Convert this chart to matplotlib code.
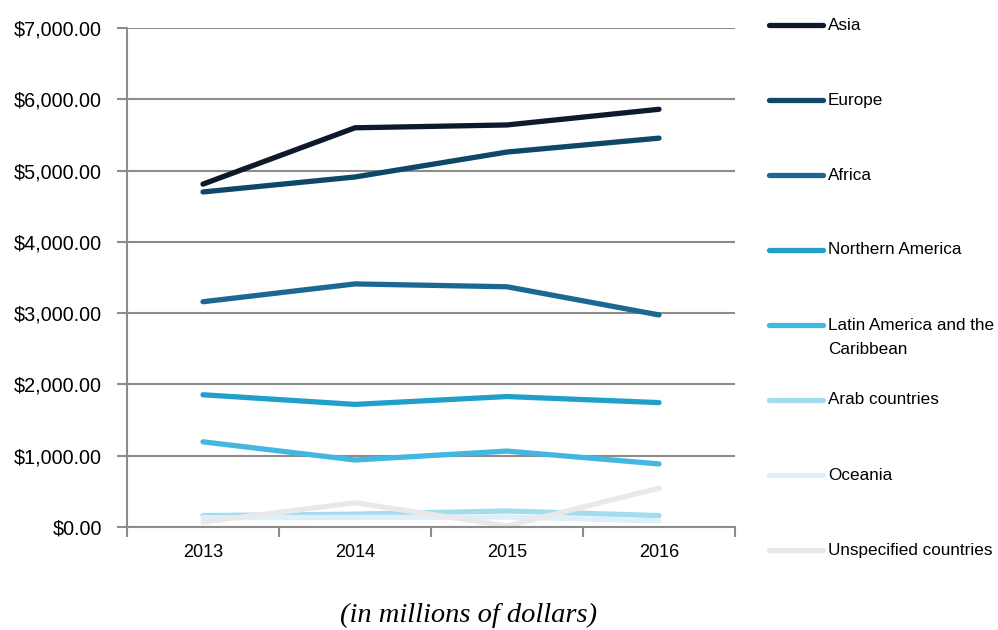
import matplotlib.pyplot as plt
from matplotlib.lines import Line2D
from matplotlib.ticker import FuncFormatter

plt.rcParams['font.family'] = ['Liberation Sans', 'DejaVu Sans']

# Data (millions of dollars)
years = ['2013', '2014', '2015', '2016']
regions = ['Asia', 'Europe', 'Africa', 'Northern America',
           'Latin America and the\nCaribbean', 'Arab countries',
           'Oceania', 'Unspecified countries']
asia = [4810, 5600, 5640, 5860]
europe = [4700, 4910, 5260, 5455]
africa = [3160, 3410, 3370, 2975]
northern_america = [1855, 1720, 1830, 1745]
latin_america = [1195, 940, 1065, 885]
arab_countries = [160, 180, 225, 160]
oceania = [130, 135, 140, 85]
unspecified = [70, 340, 15, 545]
colors = ['#0c1a2b', '#0f4766', '#1b6993', '#219fcb', '#44b7e0',
          '#a3dbef', '#ddf0f9', '#e9e9e9']

series = [asia, europe, africa, northern_america, latin_america,
          arab_countries, oceania, unspecified]

fig = plt.figure(figsize=(9.98, 6.3), dpi=100)
ax = fig.add_axes([127/998, 1 - 527/630, (735 - 127)/998, (527 - 28)/630])

x = range(len(years))
for vals, c in zip(series, colors):
    ax.plot(x, vals, color=c, lw=3.8, solid_capstyle='round',
            solid_joinstyle='round')

ax.set_xlim(-0.5, 3.5)
ax.set_ylim(0, 7000)
ax.set_yticks(range(0, 7001, 1000))
ax.yaxis.set_major_formatter(FuncFormatter(lambda v, p: '${:,.2f}'.format(v)))
# category boundaries get the tick marks, labels sit in between
ax.set_xticks([-0.5, 0.5, 1.5, 2.5, 3.5])
ax.set_xticklabels([])
ax.set_xticks(list(x), minor=True)
ax.set_xticklabels(years, minor=True)
ax.tick_params(axis='x', which='minor', length=0, labelsize=13, pad=12)
ax.tick_params(axis='x', which='major', length=7, width=1.5, color='#8c8c8c')
ax.tick_params(axis='y', length=7, width=1.5, color='#8c8c8c', labelsize=14.2, pad=11)

ax.grid(axis='y', color='#8c8c8c', lw=1.5)
ax.set_axisbelow(True)
for s in ['top', 'right']:
    ax.spines[s].set_visible(False)
for s in ['left', 'bottom']:
    ax.spines[s].set_color('#8c8c8c')
    ax.spines[s].set_linewidth(1.5)

# legend drawn by hand on the right
for i, (name, c) in enumerate(zip(regions, colors)):
    yy = 1 - (25 + 75 * i) / 630
    fig.add_artist(Line2D([769/998, 823/998], [yy, yy], color=c, lw=3.8,
                          solid_capstyle='round'))
    for k, line in enumerate(name.split('\n')):
        fig.text(828/998, yy - k * 24/630, line, fontsize=12.3,
                 va='center', ha='left')

fig.text(469/998, 1 - 615/630, '(in millions of dollars)', family='Liberation Serif',
         style='italic', fontsize=20.5, ha='center', va='center')

fig.savefig('out.png', dpi=100)
